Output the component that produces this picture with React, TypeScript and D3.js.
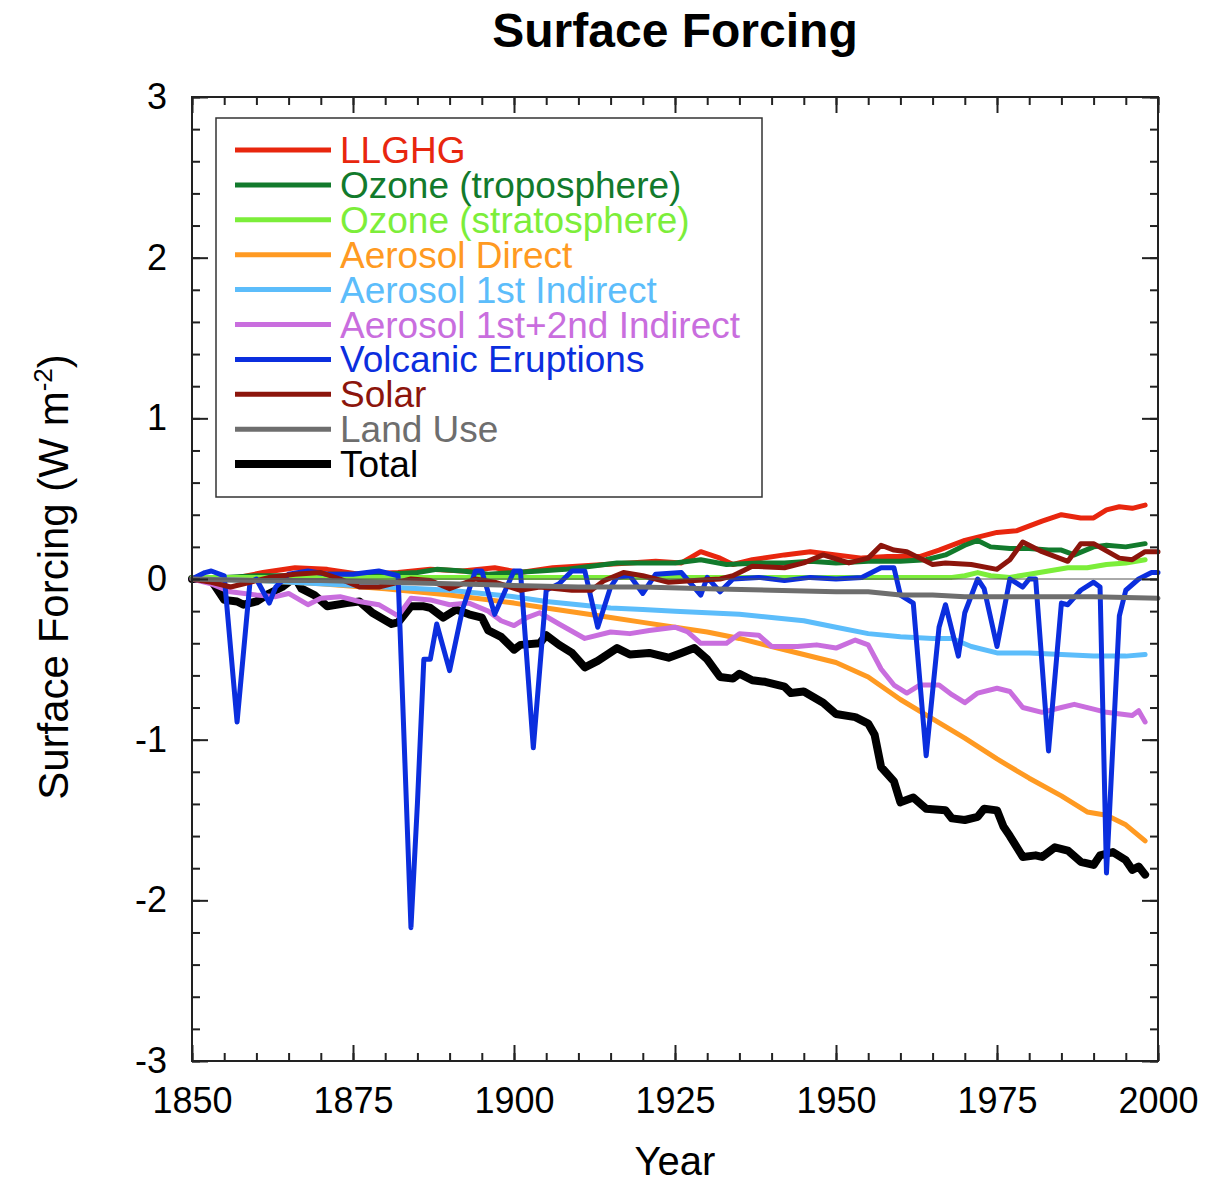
import React, { useEffect, useRef } from 'react';
import * as d3 from 'd3';

// values, W m-2
const llghgYears = [1850, 1853, 1856, 1861, 1866, 1871, 1876, 1882, 1887, 1892, 1897, 1901, 1906, 1914, 1918, 1922, 1926, 1929, 1932, 1934, 1937, 1942, 1946, 1950, 1954, 1958, 1963, 1966, 1970, 1975, 1978, 1982, 1985, 1988, 1990, 1992, 1994, 1996, 1998];
const llghgValues = [0, 0.01, 0, 0.04, 0.07, 0.06, 0.03, 0.04, 0.06, 0.05, 0.07, 0.04, 0.07, 0.09, 0.1, 0.11, 0.1, 0.17, 0.13, 0.09, 0.12, 0.15, 0.17, 0.15, 0.13, 0.14, 0.14, 0.18, 0.24, 0.29, 0.3, 0.36, 0.4, 0.38, 0.38, 0.43, 0.45, 0.44, 0.46];

const ozoneTropYears = [1850, 1855, 1860, 1865, 1870, 1875, 1880, 1885, 1888, 1892, 1896, 1900, 1904, 1908, 1912, 1916, 1920, 1925, 1929, 1933, 1938, 1942, 1946, 1950, 1955, 1960, 1964, 1967, 1970, 1972, 1974, 1977, 1980, 1983, 1985, 1987, 1990, 1992, 1995, 1998];
const ozoneTropValues = [0, 0.01, 0.02, 0.02, 0.03, 0.03, 0.03, 0.04, 0.06, 0.05, 0.03, 0.04, 0.05, 0.06, 0.08, 0.1, 0.1, 0.1, 0.12, 0.09, 0.1, 0.1, 0.11, 0.1, 0.11, 0.11, 0.12, 0.15, 0.21, 0.24, 0.2, 0.19, 0.19, 0.18, 0.18, 0.15, 0.2, 0.21, 0.2, 0.22];

const ozoneStratYears = [1850, 1900, 1950, 1968, 1970, 1972, 1974, 1977, 1980, 1983, 1986, 1989, 1992, 1995, 1998];
const ozoneStratValues = [0.01, 0.01, 0.01, 0.01, 0.02, 0.04, 0.02, 0.01, 0.03, 0.05, 0.07, 0.07, 0.09, 0.1, 0.12];

const aeroDirectYears = [1850, 1860, 1870, 1880, 1890, 1900, 1905, 1910, 1915, 1920, 1925, 1930, 1935, 1940, 1945, 1950, 1955, 1960, 1965, 1970, 1975, 1980, 1985, 1989, 1992, 1995, 1998];
const aeroDirectValues = [0, -0.01, -0.03, -0.06, -0.1, -0.15, -0.18, -0.21, -0.24, -0.27, -0.3, -0.33, -0.37, -0.42, -0.47, -0.52, -0.61, -0.75, -0.87, -0.99, -1.12, -1.24, -1.35, -1.45, -1.47, -1.53, -1.63];

const aeroFirstYears = [1850, 1860, 1870, 1880, 1890, 1895, 1900, 1905, 1910, 1915, 1920, 1925, 1930, 1935, 1940, 1945, 1950, 1955, 1960, 1965, 1968, 1971, 1975, 1980, 1985, 1990, 1995, 1998];
const aeroFirstValues = [0, -0.01, -0.03, -0.05, -0.07, -0.09, -0.11, -0.14, -0.16, -0.18, -0.19, -0.2, -0.21, -0.22, -0.24, -0.26, -0.3, -0.34, -0.36, -0.37, -0.37, -0.42, -0.46, -0.46, -0.47, -0.48, -0.48, -0.47];

const aeroBothYears = [1850, 1853, 1856, 1860, 1863, 1865, 1868, 1870, 1873, 1876, 1879, 1882, 1884, 1887, 1890, 1893, 1896, 1898, 1900, 1902, 1904, 1907, 1911, 1915, 1918, 1921, 1925, 1927, 1929, 1933, 1935, 1938, 1940, 1944, 1947, 1950, 1953, 1955, 1957, 1959, 1961, 1963, 1966, 1968, 1970, 1972, 1975, 1977, 1979, 1982, 1985, 1987, 1990, 1992, 1996, 1997, 1998];
const aeroBothValues = [0, -0.03, -0.08, -0.1, -0.11, -0.09, -0.16, -0.12, -0.11, -0.14, -0.16, -0.23, -0.12, -0.13, -0.16, -0.15, -0.2, -0.26, -0.29, -0.24, -0.21, -0.28, -0.37, -0.33, -0.34, -0.32, -0.3, -0.33, -0.4, -0.4, -0.34, -0.35, -0.42, -0.42, -0.41, -0.43, -0.38, -0.41, -0.56, -0.66, -0.71, -0.66, -0.66, -0.72, -0.77, -0.71, -0.68, -0.7, -0.8, -0.83, -0.8, -0.78, -0.81, -0.83, -0.85, -0.82, -0.89];

const volcanicYears = [1850, 1852, 1853, 1855, 1857, 1859, 1860, 1862, 1863, 1865, 1868, 1871, 1875, 1879, 1882, 1884, 1885, 1886, 1887, 1888, 1890, 1892, 1894, 1895, 1897, 1900, 1901, 1903, 1905, 1907, 1909, 1911, 1913, 1915, 1916, 1918, 1920, 1922, 1926, 1929, 1930, 1932, 1934, 1938, 1942, 1946, 1950, 1954, 1957, 1959, 1960, 1962, 1964, 1966, 1967, 1969, 1970, 1972, 1973, 1975, 1977, 1979, 1980, 1981, 1983, 1985, 1986, 1988, 1990, 1991, 1992, 1994, 1995, 1997, 1999, 2000];
const volcanicValues = [0, 0.04, 0.05, 0.02, -0.89, -0.02, 0, -0.15, -0.05, 0.03, 0.05, 0.03, 0.03, 0.05, 0.02, -2.17, -1.4, -0.5, -0.5, -0.28, -0.57, -0.19, 0.05, 0.05, -0.22, 0.05, 0.05, -1.05, -0.07, -0.03, 0.05, 0.05, -0.3, -0.05, 0.01, 0.02, -0.09, 0.03, 0.04, -0.1, 0.01, -0.08, 0, 0.01, -0.01, 0.01, 0, 0.01, 0.07, 0.07, -0.1, -0.15, -1.1, -0.3, -0.16, -0.48, -0.21, 0, -0.06, -0.42, 0, -0.05, 0, 0, -1.07, -0.15, -0.16, -0.07, -0.02, -0.05, -1.83, -0.23, -0.07, 0, 0.04, 0.04];

const solarYears = [1850, 1853, 1856, 1859, 1862, 1866, 1870, 1873, 1876, 1879, 1884, 1887, 1890, 1894, 1897, 1901, 1904, 1909, 1912, 1914, 1917, 1920, 1924, 1928, 1932, 1934, 1937, 1942, 1945, 1948, 1952, 1955, 1957, 1959, 1961, 1963, 1965, 1967, 1971, 1975, 1977, 1979, 1982, 1986, 1988, 1990, 1994, 1996, 1998, 2000];
const solarValues = [0, -0.02, -0.05, -0.02, 0.01, 0.03, 0.04, 0, -0.05, -0.05, 0, -0.01, -0.06, 0, -0.02, -0.07, -0.05, -0.07, -0.07, -0.01, 0.04, 0.02, -0.02, -0.01, 0, 0.02, 0.08, 0.07, 0.1, 0.15, 0.1, 0.13, 0.21, 0.18, 0.17, 0.13, 0.09, 0.1, 0.09, 0.06, 0.12, 0.23, 0.17, 0.11, 0.22, 0.22, 0.13, 0.12, 0.17, 0.17];

const landUseYears = [1850, 1860, 1870, 1880, 1890, 1900, 1910, 1920, 1930, 1940, 1950, 1955, 1960, 1965, 1970, 1980, 1990, 2000];
const landUseValues = [0, -0.01, -0.01, -0.02, -0.03, -0.04, -0.05, -0.05, -0.06, -0.07, -0.08, -0.08, -0.1, -0.1, -0.11, -0.11, -0.11, -0.12];

const totalYears = [1850, 1852, 1853, 1855, 1857, 1858, 1860, 1862, 1864, 1866, 1867, 1869, 1871, 1874, 1876, 1878, 1881, 1882, 1884, 1886, 1887, 1889, 1891, 1893, 1895, 1896, 1898, 1900, 1901, 1904, 1905, 1907, 1909, 1911, 1913, 1916, 1918, 1921, 1924, 1926, 1928, 1930, 1932, 1934, 1935, 1937, 1939, 1942, 1943, 1945, 1948, 1950, 1953, 1955, 1956, 1957, 1959, 1960, 1962, 1964, 1967, 1968, 1970, 1972, 1973, 1975, 1976, 1977, 1979, 1981, 1982, 1984, 1986, 1988, 1990, 1991, 1993, 1995, 1996, 1997, 1998];
const totalValues = [0, 0, -0.01, -0.13, -0.14, -0.16, -0.14, -0.09, -0.05, 0.01, -0.06, -0.1, -0.17, -0.15, -0.14, -0.21, -0.28, -0.27, -0.17, -0.17, -0.18, -0.24, -0.19, -0.22, -0.24, -0.32, -0.36, -0.44, -0.41, -0.4, -0.35, -0.41, -0.46, -0.55, -0.51, -0.43, -0.47, -0.46, -0.49, -0.46, -0.43, -0.5, -0.61, -0.62, -0.59, -0.63, -0.64, -0.67, -0.71, -0.7, -0.77, -0.84, -0.86, -0.9, -0.97, -1.17, -1.26, -1.39, -1.36, -1.43, -1.44, -1.49, -1.5, -1.48, -1.43, -1.44, -1.54, -1.6, -1.73, -1.72, -1.73, -1.67, -1.69, -1.76, -1.78, -1.72, -1.7, -1.75, -1.81, -1.79, -1.84];

const seriesNames = ['LLGHG', 'Ozone (troposphere)', 'Ozone (stratosphere)', 'Aerosol Direct', 'Aerosol 1st Indirect', 'Aerosol 1st+2nd Indirect', 'Volcanic Eruptions', 'Solar', 'Land Use', 'Total'];
const seriesColors = ['#e8260e', '#127a2c', '#7cee3a', '#ff9a22', '#5cbdfb', '#c96ede', '#0b2ede', '#8c150c', '#6e6e6e', '#000000'];
const seriesYears = [llghgYears, ozoneTropYears, ozoneStratYears, aeroDirectYears, aeroFirstYears, aeroBothYears, volcanicYears, solarYears, landUseYears, totalYears];
const seriesValues = [llghgValues, ozoneTropValues, ozoneStratValues, aeroDirectValues, aeroFirstValues, aeroBothValues, volcanicValues, solarValues, landUseValues, totalValues];

const yearTicks = [1850, 1875, 1900, 1925, 1950, 1975, 2000];
const forcingTicks = [-3, -2, -1, 0, 1, 2, 3];

const WIDTH = 1228;
const HEIGHT = 1185;
const FONT = "'Liberation Sans', Arial, Helvetica, sans-serif";

const App = () => {
  const chartRef = useRef(null);

  useEffect(() => {
    const svg = d3.select(chartRef.current);
    svg.selectAll('*').remove();

    const left = 192, right = 1158, top = 97, bottom = 1061;

    const x = d3.scaleLinear().domain([1850, 2000]).range([left, right]);
    const y = d3.scaleLinear().domain([-3, 3]).range([bottom, top]);

    svg.append('rect')
      .attr('width', WIDTH).attr('height', HEIGHT).attr('fill', '#fff');

    // title
    svg.append('text')
      .attr('x', 675).attr('y', 47)
      .attr('text-anchor', 'middle')
      .attr('font-family', FONT).attr('font-weight', 'bold').attr('font-size', 48)
      .text('Surface Forcing');

    const line = d3.line()
      .x(d => x(d[0]))
      .y(d => y(d[1]));

    // total sits underneath, the rest in legend order
    const order = [9, 0, 1, 2, 3, 4, 5, 6, 7, 8];
    const lines = svg.append('g').attr('class', 'series').attr('fill', 'none')
      .attr('stroke-linejoin', 'round').attr('stroke-linecap', 'round');
    order.forEach(i => {
      const pts = seriesYears[i].map((yr, k) => [yr, seriesValues[i][k]]);
      lines.append('path')
        .attr('d', line(pts))
        .attr('stroke', seriesColors[i])
        .attr('stroke-width', i === 9 ? 8 : 5);
    });

    // zero line
    svg.append('line')
      .attr('x1', left).attr('x2', right)
      .attr('y1', y(0)).attr('y2', y(0))
      .attr('stroke', '#555').attr('stroke-width', 1);

    // frame
    svg.append('rect')
      .attr('x', left).attr('y', top)
      .attr('width', right - left).attr('height', bottom - top)
      .attr('fill', 'none').attr('stroke', '#222').attr('stroke-width', 2);

    const minorYears = d3.range(1850, 2001, 5);
    const minorForcing = d3.range(-30, 31, 2).map(v => v / 10);
    const plain = d => String(d);

    const styleAxis = g => {
      g.select('.domain').remove();
      g.selectAll('line').attr('stroke', '#222').attr('stroke-width', 2);
      g.selectAll('text').attr('font-family', FONT).attr('font-size', 36).attr('fill', '#000');
    };

    svg.append('g')
      .attr('transform', `translate(0,${bottom})`)
      .call(d3.axisBottom(x).tickValues(minorYears).tickSize(-8).tickFormat(() => ''))
      .call(styleAxis);
    svg.append('g')
      .attr('transform', `translate(0,${bottom})`)
      .call(d3.axisBottom(x).tickValues(yearTicks).tickSize(-16).tickPadding(26).tickFormat(plain))
      .call(styleAxis)
      .call(g => g.selectAll('text').attr('dy', '0.71em'));
    svg.append('g')
      .attr('transform', `translate(0,${top})`)
      .call(d3.axisTop(x).tickValues(minorYears).tickSize(-8).tickFormat(() => ''))
      .call(styleAxis);
    svg.append('g')
      .attr('transform', `translate(0,${top})`)
      .call(d3.axisTop(x).tickValues(yearTicks).tickSize(-16).tickFormat(() => ''))
      .call(styleAxis);

    svg.append('g')
      .attr('transform', `translate(${left},0)`)
      .call(d3.axisLeft(y).tickValues(minorForcing).tickSize(-8).tickFormat(() => ''))
      .call(styleAxis);
    svg.append('g')
      .attr('transform', `translate(${left},0)`)
      .call(d3.axisLeft(y).tickValues(forcingTicks).tickSize(-16).tickPadding(25).tickFormat(plain))
      .call(styleAxis);
    svg.append('g')
      .attr('transform', `translate(${right},0)`)
      .call(d3.axisRight(y).tickValues(minorForcing).tickSize(-8).tickFormat(() => ''))
      .call(styleAxis);
    svg.append('g')
      .attr('transform', `translate(${right},0)`)
      .call(d3.axisRight(y).tickValues(forcingTicks).tickSize(-16).tickFormat(() => ''))
      .call(styleAxis);

    // axis titles
    svg.append('text')
      .attr('x', 675).attr('y', 1175)
      .attr('text-anchor', 'middle')
      .attr('font-family', FONT).attr('font-size', 40)
      .text('Year');

    const yTitle = svg.append('text')
      .attr('transform', 'translate(68,577) rotate(-90)')
      .attr('text-anchor', 'middle')
      .attr('font-family', FONT).attr('font-size', 42);
    yTitle.append('tspan').text('Surface Forcing (W m');
    yTitle.append('tspan').attr('font-size', 26).attr('dy', -16).text('-2');
    yTitle.append('tspan').attr('dy', 16).text(')');

    // legend
    const legend = svg.append('g').attr('class', 'legend');
    legend.append('rect')
      .attr('x', 216).attr('y', 118).attr('width', 546).attr('height', 379)
      .attr('fill', '#fff').attr('stroke', '#333').attr('stroke-width', 1.5);
    seriesNames.forEach((name, i) => {
      const ly = 150 + i * 34.9;
      legend.append('line')
        .attr('x1', 235).attr('x2', 331).attr('y1', ly).attr('y2', ly)
        .attr('stroke', seriesColors[i]).attr('stroke-width', i === 9 ? 8 : 5);
      legend.append('text')
        .attr('x', 340).attr('y', ly + 13)
        .attr('font-family', FONT).attr('font-size', 37)
        .attr('fill', seriesColors[i])
        .text(name);
    });
  }, []);

  return (
    <div style={{ position: 'absolute', left: 0, top: 0, width: WIDTH, height: HEIGHT }}>
      <svg ref={chartRef} width={WIDTH} height={HEIGHT} viewBox={`0 0 ${WIDTH} ${HEIGHT}`}></svg>
    </div>
  );
};

export default App;
